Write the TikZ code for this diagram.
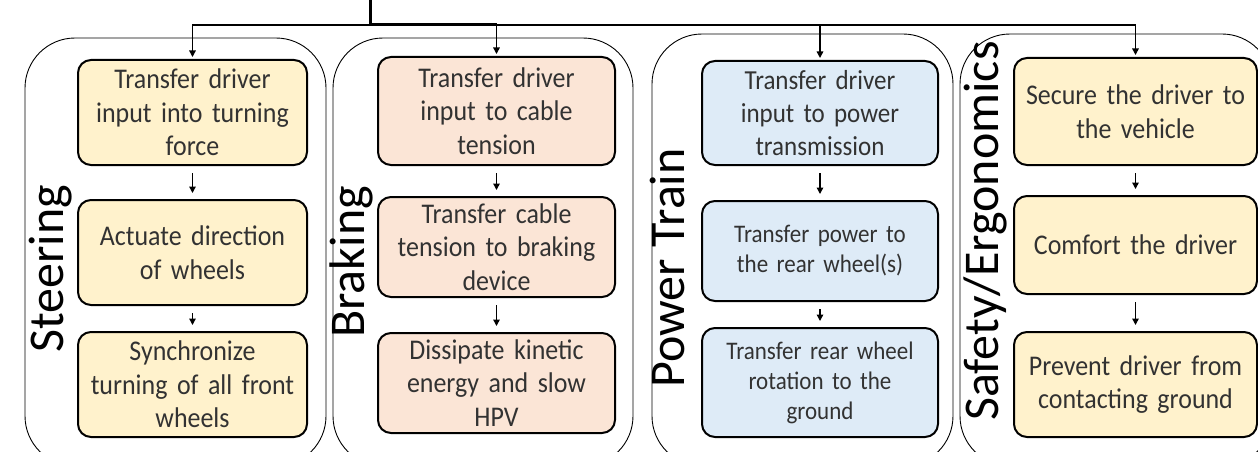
\documentclass[tikz,border=0pt]{standalone}
\usepackage{fontspec}
\setmainfont{Carlito}
\newfontfamily\boxfont[FakeStretch=0.91]{Carlito}
\usetikzlibrary{arrows.meta}
\definecolor{steerfill}{RGB}{255,242,204}
\definecolor{brakefill}{RGB}{251,229,214}
\definecolor{powerfill}{RGB}{222,235,247}
\definecolor{safefill}{RGB}{255,242,204}
\definecolor{textgray}{RGB}{50,50,50}
\tikzset{
  grp/.style={draw=black, line width=0.9pt, rounded corners=50pt},
  fbox/.style={draw=black, line width=2pt, rounded corners=13pt, text=textgray,
    align=center, inner sep=0pt, font=\boxfont\fontsize{28.5}{33.5}\selectfont},
  fboxmid/.style={fbox, font=\boxfont\fontsize{27.5}{33}\selectfont},
  fboxsmall/.style={fbox, font=\boxfont\fontsize{25.3}{30}\selectfont},
  flow/.style={-{Triangle[length=6.5pt,width=6.5pt]}, line width=1.4pt,
    shorten <=7pt, shorten >=6pt},
  feed/.style={-{Triangle[length=6.5pt,width=6.5pt]}, line width=1.4pt, shorten >=2pt},
  trunk/.style={line width=3pt},
  lbl/.style={rotate=90, anchor=base, inner sep=0pt, text=black,
    font=\fontsize{50}{52}\selectfont},
}
\begin{document}
\begin{tikzpicture}[x=1pt, y=-1pt]
\useasboundingbox (0,0) rectangle (1258,452);
\clip (0,0) rectangle (1258,452);

% subsystem groups
\draw[grp] (25,38) rectangle (326,466);
\draw[grp] (333,38) rectangle (633,466);
\draw[grp] (652,34) rectangle (953,466);
\draw[grp] (960,34) rectangle (1272,466);

% group titles
\node[lbl] (lsteer) at (63,269) {Steering};
\node[lbl] (lbrake) at (364,262) {Braking};
\node[lbl] (lpower) at (684,268) {Power Train};
\node[lbl] (lsafe) at (998,231) {Safety/Ergonomics};

% steering functions
\node[fbox, fill=steerfill, minimum width=229pt, minimum height=105pt, text width=224pt]
  (s1) at (192.5,112.5) {Transfer driver\\input into turning\\force};
\node[fbox, fill=steerfill, minimum width=229pt, minimum height=105pt, text width=224pt]
  (s2) at (192.5,252.5) {Actuate direction\\of wheels};
\node[fbox, fill=steerfill, minimum width=229pt, minimum height=105pt, text width=224pt]
  (s3) at (192.5,384.5) {Synchronize\\turning of all front\\wheels};

% braking functions
\node[fbox, fill=brakefill, minimum width=237pt, minimum height=108pt, text width=230pt]
  (b1) at (496.5,111) {Transfer driver\\input to cable\\tension};
\node[fbox, fill=brakefill, minimum width=237pt, minimum height=100pt, text width=230pt]
  (b2) at (496.5,247) {Transfer cable\\tension to braking\\device};
\node[fbox, fill=brakefill, minimum width=237pt, minimum height=100pt, text width=230pt]
  (b3) at (496.5,383) {Dissipate kinetic\\energy and slow\\HPV};

% power train functions
\node[fboxmid, fill=powerfill, minimum width=236pt, minimum height=104pt, text width=230pt]
  (p1) at (820,113) {Transfer driver\\input to power\\transmission};
\node[fboxsmall, fill=powerfill, minimum width=236pt, minimum height=100pt, text width=230pt]
  (p2) at (820,251) {Transfer power to\\the rear wheel(s)};
\node[fboxsmall, fill=powerfill, minimum width=236pt, minimum height=109pt, text width=230pt]
  (p3) at (820,382.5) {Transfer rear wheel\\rotation to the\\ground};

% safety / ergonomics functions
\node[fbox, fill=safefill, minimum width=243pt, minimum height=107pt, text width=238pt]
  (e1) at (1135.5,111.5) {Secure the driver to\\the vehicle};
\node[fbox, fill=safefill, minimum width=243pt, minimum height=98pt, text width=238pt]
  (e2) at (1135.5,245) {Comfort the driver};
\node[fbox, fill=safefill, minimum width=243pt, minimum height=105pt, text width=238pt]
  (e3) at (1135.5,384.5) {Prevent driver from\\contacting ground};

% top-level feed
\coordinate (top) at (370,0);
\coordinate (hub) at (370,25);
\draw[feed] (hub) -| (s1.north);
\draw[feed] (hub) -| (b1.north);
\draw[feed] (hub) -| (p1.north);
\draw[feed] (hub) -| (e1.north);
\draw[trunk] (top) -- (hub) -- (hub -| b1.north);

% flow within each group
\draw[flow] (s1) -- (s2);
\draw[flow] (s2) -- (s3);
\draw[flow] (b1) -- (b2);
\draw[flow] (b2) -- (b3);
\draw[flow] (p1) -- (p2);
\draw[flow] (p2) -- (p3);
\draw[flow] (e1) -- (e2);
\draw[flow] (e2) -- (e3);
\end{tikzpicture}
\end{document}
